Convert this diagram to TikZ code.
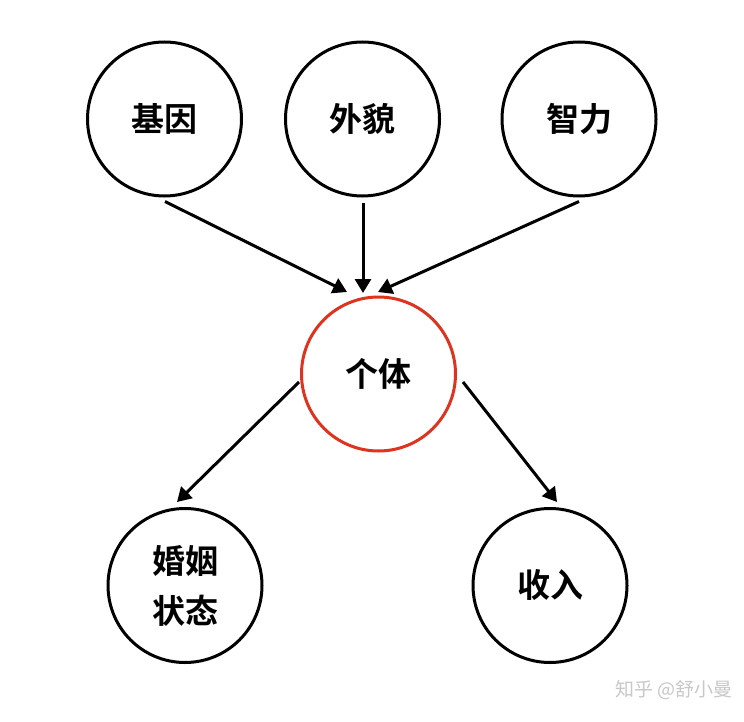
\documentclass[tikz,border=0pt]{standalone}
\usepackage{fontspec}
\newfontfamily\cjk{Noto Sans CJK SC}[BoldFont=* Bold]
\usetikzlibrary{arrows.meta}
\definecolor{redc}{RGB}{222,52,31}
\definecolor{wmgray}{RGB}{200,200,200}
\begin{document}
\begin{tikzpicture}[x=1pt,y=-1pt,
  circ/.style={circle,draw=black,line width=3pt,minimum size=154pt,inner sep=0pt,
    font=\cjk\bfseries\fontsize{33}{50}\selectfont,align=center},
  redcirc/.style={circ,draw=redc},
  arr/.style={line width=3pt,-{Triangle[length=14pt,width=16pt]}}]
\useasboundingbox (0,0) rectangle (744,722);
\fill[white] (0,0) rectangle (744,722);
\node[circ] (gene) at (164.5,119) {基因};
\node[circ] (look) at (362.5,119) {外貌};
\node[circ] (iq) at (579,119) {智力};
\node[redcirc] (ind) at (378.5,374) {个体};
\node[circ] (mar) at (185,585.5) {婚姻\\状态};
\node[circ] (inc) at (550,585.5) {收入};
\coordinate (t1) at (347,292);
\coordinate (t2) at (363,293);
\coordinate (t3) at (378,292);
\coordinate (t4) at (177,502);
\coordinate (t5) at (557,502);
\draw[arr] ([shift={(0.5,4)}]gene.south) -- (t1);
\draw[arr] ([shift={(0.5,6)}]look.south) -- (t2);
\draw[arr] ([shift={(0,4)}]iq.south) -- (t3);
\draw[arr] ([shift={(-1,8)}]ind.west) -- (t4);
\draw[arr] ([shift={(6,8)}]ind.east) -- (t5);
\node[font=\cjk\fontsize{19}{22}\selectfont,text=wmgray,anchor=east] (wm) at (736,690) {知乎 @舒小曼};
\end{tikzpicture}
\end{document}
